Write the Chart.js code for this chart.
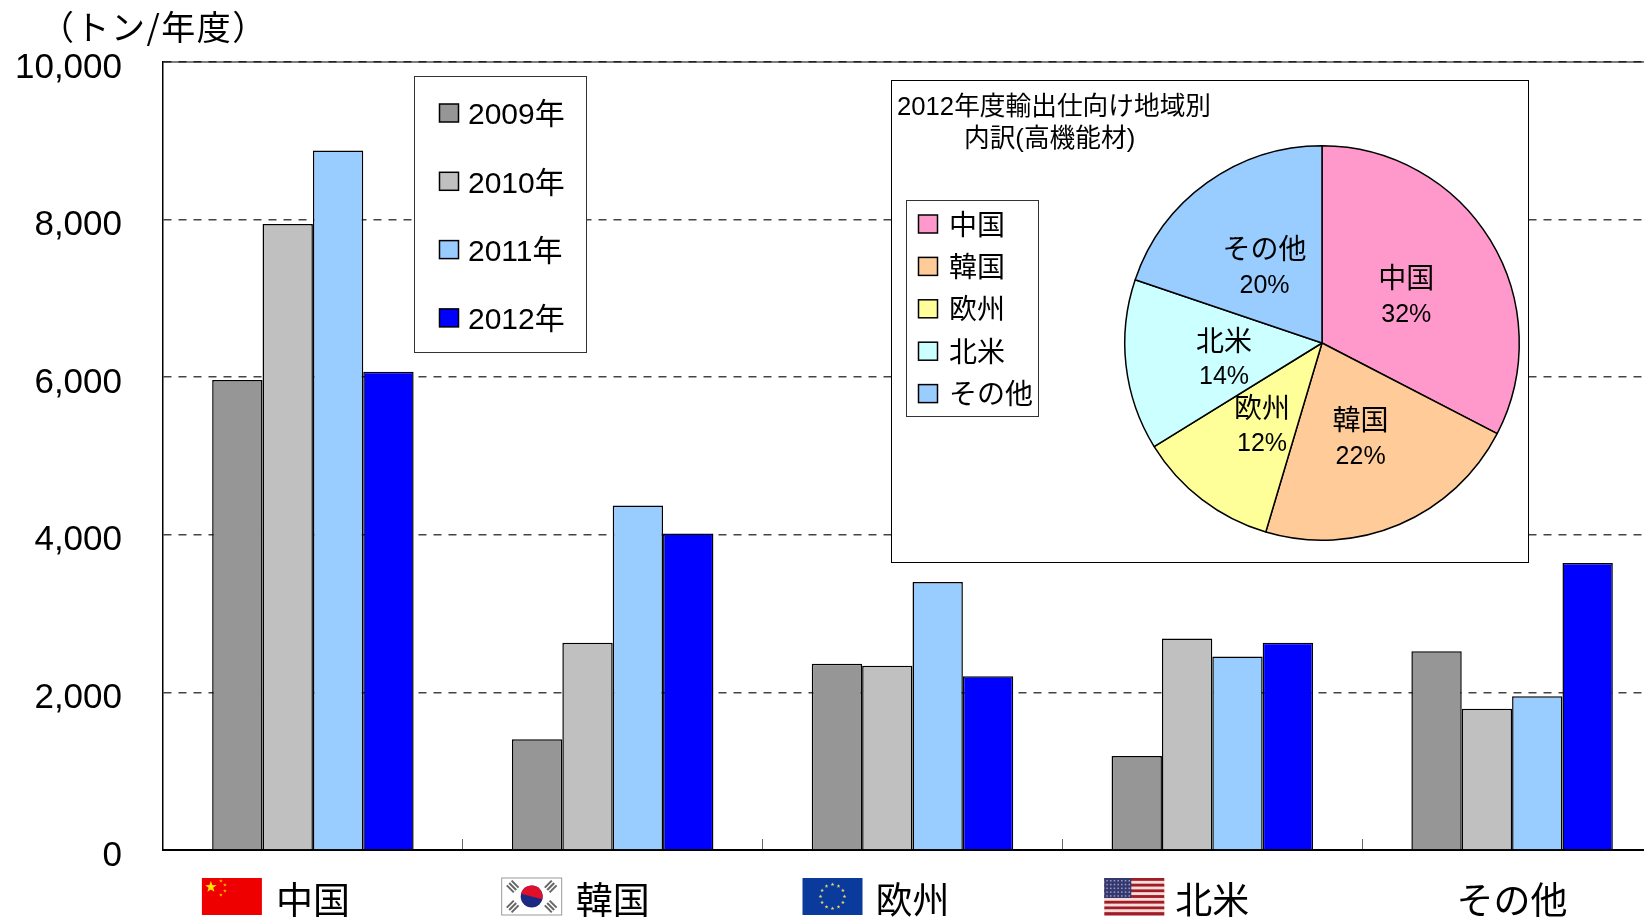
<!DOCTYPE html>
<html lang="ja">
<head>
<meta charset="utf-8">
<title>輸出量</title>
<script src="https://cdn.jsdelivr.net/npm/chart.js@4"></script>
<style>
    html, body { margin: 0; background: #fff; overflow: hidden; width: 1644px; height: 917px; }
    #mainChart { position: absolute; left: 0; top: 0; }
    #pieBox { position: absolute; left: 891px; top: 80px; width: 636px; height: 481px; border: 1.5px solid #000; background: #fff; }
    #pieChart { display: block; }
</style>
</head>
<body>
<canvas id="mainChart" width="1664" height="917"></canvas>
<div id="pieBox"><canvas id="pieChart" width="636" height="481"></canvas></div>
<script>
// データ
const regions = ['中国', '韓国', '欧州', '北米', 'その他'];
const years = ['2009年', '2010年', '2011年', '2012年'];
const values2009 = [5963, 1405, 2364, 1192, 2523];
const values2010 = [7945, 2630, 2337, 2683, 1791];
const values2011 = [8877, 4373, 3402, 2457, 1951];
const values2012 = [6068, 4015, 2204, 2630, 3642];
const yearColors = ['#969696', '#C0C0C0', '#99CCFF', '#0000FF'];

const unitLabel = '（トン/年度）';
const pieTitle = ['2012年度輸出仕向け地域別', '内訳(高機能材)'];
const pieLabels = ['中国', '韓国', '欧州', '北米', 'その他'];
const pieValues = [32.6, 22, 11.6, 14, 19.8];
const pieTexts = ['32%', '22%', '12%', '14%', '20%'];
const pieColors = ['#FF99CC', '#FFCC99', '#FFFF99', '#CCFFFF', '#99CCFF'];

const LATIN = '"Liberation Sans", "Noto Sans CJK JP", sans-serif';
const CJK = '"Noto Sans CJK JP", sans-serif';

function swatch(ctx, x, y, w, h, color) {
    ctx.fillStyle = color;
    ctx.fillRect(x, y, w, h);
    ctx.strokeStyle = '#000';
    ctx.lineWidth = 1.5;
    ctx.strokeRect(x, y, w, h);
}

// 国旗(簡略)
function drawStar(ctx, cx, cy, r, color) {
    ctx.fillStyle = color;
    ctx.beginPath();
    for (let i = 0; i < 10; i++) {
        const rr = i % 2 ? r * 0.4 : r;
        const a = -Math.PI / 2 + i * Math.PI / 5;
        ctx.lineTo(cx + rr * Math.cos(a), cy + rr * Math.sin(a));
    }
    ctx.closePath();
    ctx.fill();
}

const flagPainters = {
    '中国': (ctx, x, y, w, h) => {
        ctx.fillStyle = '#EE0000';
        ctx.fillRect(x, y, w, h);
        drawStar(ctx, x + 9, y + 9, 6, '#FFE600');
        [[19, 3], [23, 7], [23, 13], [19, 17]].forEach(p => drawStar(ctx, x + p[0], y + p[1], 2, '#FFB000'));
    },
    '韓国': (ctx, x, y, w, h) => {
        const cx = x + w / 2, cy = y + h / 2;
        ctx.fillStyle = '#FFFFFF';
        ctx.fillRect(x, y, w, h);
        ctx.strokeStyle = '#999';
        ctx.lineWidth = 1;
        ctx.strokeRect(x, y, w, h);
        ctx.fillStyle = '#1B2A80';
        ctx.beginPath();
        ctx.arc(cx, cy, 11, 0, Math.PI * 2);
        ctx.fill();
        ctx.fillStyle = '#E0102A';
        ctx.beginPath();
        ctx.arc(cx, cy, 11, Math.PI * 1.08, Math.PI * 2.08);
        ctx.fill();
        // 四隅の卦
        ctx.strokeStyle = '#666';
        ctx.lineWidth = 2;
        [[-19, -10, 1], [19, -10, -1], [-19, 10, -1], [19, 10, 1]].forEach(t => {
            for (let k = -1; k <= 1; k++) {
                const ox = t[0] + k * 3 * t[2] * 0.8, oy = t[1] - k * 3 * 0.8;
                ctx.beginPath();
                ctx.moveTo(cx + ox - 3.5, cy + oy - 3.5 * t[2]);
                ctx.lineTo(cx + ox + 3.5, cy + oy + 3.5 * t[2]);
                ctx.stroke();
            }
        });
    },
    '欧州': (ctx, x, y, w, h) => {
        ctx.fillStyle = '#0A3A9C';
        ctx.fillRect(x, y, w, h);
        for (let i = 0; i < 12; i++) {
            const a = i * Math.PI / 6;
            drawStar(ctx, x + w / 2 + 12 * Math.cos(a), y + h / 2 + 12 * Math.sin(a), 2, '#E8DC60');
        }
    },
    '北米': (ctx, x, y, w, h) => {
        for (let i = 0; i < 13; i++) {
            ctx.fillStyle = i % 2 ? '#F8DCD8' : '#A01C28';
            ctx.fillRect(x, y + i * h / 13, w, h / 13 + 0.5);
        }
        ctx.fillStyle = '#34386E';
        ctx.fillRect(x, y, w * 0.45, h * 0.54);
        ctx.fillStyle = '#9A9EC8';
        for (let r = 0; r < 5; r++) {
            for (let c = 0; c < 7; c++) {
                ctx.fillRect(x + 2 + c * 3.7, y + 2 + r * 3.8, 1.5, 1.5);
            }
        }
    }
};
const flagLeft = { '中国': -111, '韓国': -111, '欧州': -110, '北米': -108 };

// 凡例、単位、枠線、国旗
const mainDecor = {
    id: 'mainDecor',
    afterDraw(chart) {
        const { ctx, chartArea: { top, left, right }, scales: { x } } = chart;
        ctx.save();

        ctx.strokeStyle = '#000';
        ctx.lineWidth = 1;
        ctx.beginPath();
        ctx.moveTo(left, top);
        ctx.lineTo(right, top);
        ctx.stroke();

        ctx.fillStyle = '#000';
        ctx.font = '34px ' + CJK;
        ctx.letterSpacing = '1.5px';
        ctx.textAlign = 'left';
        ctx.textBaseline = 'middle';
        ctx.fillText(unitLabel, 40, 27);
        ctx.letterSpacing = '0px';

        // 年の凡例
        ctx.fillStyle = '#fff';
        ctx.fillRect(414, 76, 172.5, 276);
        ctx.strokeStyle = '#333';
        ctx.lineWidth = 1;
        ctx.strokeRect(414.5, 76.5, 172, 276);
        chart.data.datasets.forEach((ds, i) => {
            const cy = 113 + i * 68.3;
            swatch(ctx, 439.5, cy - 9, 19, 18, ds.backgroundColor);
            ctx.fillStyle = '#000';
            ctx.font = '30px ' + LATIN;
            ctx.textAlign = 'left';
            ctx.textBaseline = 'middle';
            ctx.fillText(ds.label, 468, cy + 3);
        });

        // カテゴリ名の左の国旗
        regions.forEach((name, i) => {
            const paint = flagPainters[name];
            if (paint) paint(ctx, x.getPixelForValue(i) + flagLeft[name], 878, 60, 37);
        });
        ctx.restore();
    }
};

new Chart(document.getElementById('mainChart'), {
    type: 'bar',
    data: {
        labels: regions,
        datasets: [
            { label: years[0], data: values2009, backgroundColor: yearColors[0] },
            { label: years[1], data: values2010, backgroundColor: yearColors[1] },
            { label: years[2], data: values2011, backgroundColor: yearColors[2] },
            { label: years[3], data: values2012, backgroundColor: yearColors[3] }
        ]
    },
    options: {
        responsive: false,
        animation: false,
        layout: { padding: { top: 62, left: 0, right: 2, bottom: 0 } },
        datasets: { bar: { categoryPercentage: 0.672, barPercentage: 1, borderColor: '#000', borderWidth: 1.5 } },
        plugins: { legend: { display: false }, tooltip: { enabled: false } },
        scales: {
            x: {
                afterFit: scale => { scale.height = 67; },
                grid: { drawOnChartArea: false, tickLength: -11, tickColor: '#666', offset: true },
                border: { color: '#000', width: 2 },
                ticks: {
                    color: '#000',
                    font: { family: CJK, size: 37 },
                    padding: 39,
                    maxRotation: 0,
                    autoSkip: false
                }
            },
            y: {
                min: 0,
                max: 10000,
                afterFit: scale => { scale.width = 163; },
                grid: { color: '#444', lineWidth: 1.5, drawTicks: false },
                border: { color: '#000', width: 1.5, dash: [8, 7] },
                ticks: {
                    stepSize: 2000,
                    color: '#000',
                    padding: 41,
                    labelOffset: 6,
                    font: { family: LATIN, size: 35 },
                    callback: v => v.toLocaleString('en-US')
                }
            }
        }
    },
    plugins: [mainDecor]
});

// 円グラフのタイトル、凡例、ラベル
const pieDecor = {
    id: 'pieDecor',
    afterDraw(chart) {
        const { ctx } = chart;
        const arcs = chart.getDatasetMeta(0).data;
        ctx.save();
        ctx.fillStyle = '#000';
        ctx.textBaseline = 'middle';
        ctx.textAlign = 'left';
        ctx.font = '25.7px ' + LATIN;
        ctx.fillText(pieTitle[0], 5, 27);
        ctx.fillText(pieTitle[1], 72, 59);

        ctx.fillStyle = '#fff';
        ctx.fillRect(15, 120, 132, 216);
        ctx.strokeStyle = '#333';
        ctx.lineWidth = 1;
        ctx.strokeRect(14.5, 119.5, 132, 216);
        pieLabels.forEach((name, i) => {
            const cy = 143 + i * 42.4;
            swatch(ctx, 26.5, cy - 9, 19, 18, pieColors[i]);
            ctx.fillStyle = '#000';
            ctx.font = '28px ' + CJK;
            ctx.fillText(name, 57, cy);
        });

        ctx.textAlign = 'center';
        arcs.forEach((arc, i) => {
            const p = arc.tooltipPosition();
            ctx.font = '28px ' + CJK;
            ctx.fillText(pieLabels[i], p.x, p.y - 14);
            ctx.font = '25px ' + LATIN;
            ctx.fillText(pieTexts[i], p.x, p.y + 23);
        });
        ctx.restore();
    }
};

new Chart(document.getElementById('pieChart'), {
    type: 'pie',
    data: {
        labels: pieLabels,
        datasets: [{ data: pieValues, backgroundColor: pieColors, borderColor: '#000', borderWidth: 1.5 }]
    },
    options: {
        responsive: false,
        animation: false,
        layout: { padding: { left: 232, right: 8, top: 64, bottom: 21 } },
        plugins: { legend: { display: false }, tooltip: { enabled: false } }
    },
    plugins: [pieDecor]
});
</script>
</body>
</html>
